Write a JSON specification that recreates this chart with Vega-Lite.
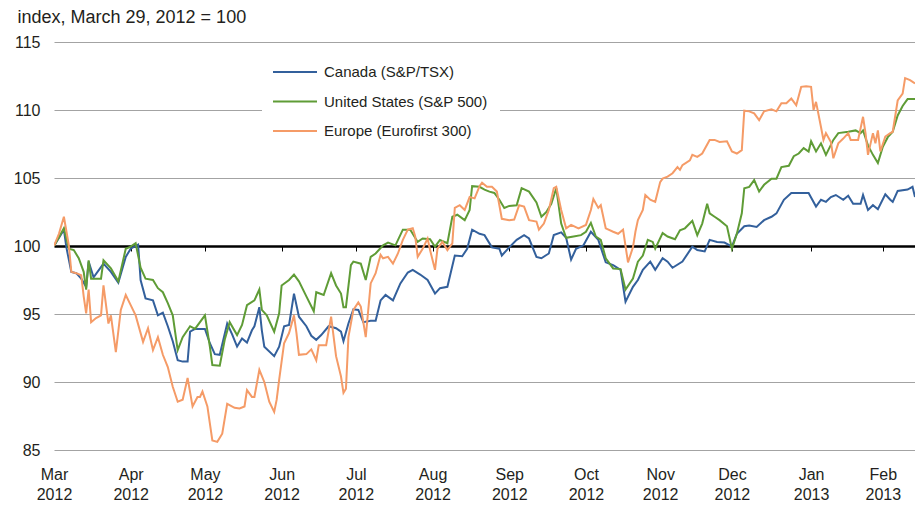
{
  "$schema": "https://vega.github.io/schema/vega-lite/v6.json",
  "width": 861,
  "height": 408,
  "autosize": {"type": "none"},
  "padding": {"left": 54, "top": 42, "right": 0, "bottom": 57},
  "background": "white",
  "config": {"font": "Liberation Sans", "view": {"stroke": null}},
  "data": {"values": [
{"series":"Canada (S&P/TSX)","date":"2012-03-29","value":100},{"series":"Canada (S&P/TSX)","date":"2012-04-02","value":101.2},{"series":"Canada (S&P/TSX)","date":"2012-04-03","value":99.9},{"series":"Canada (S&P/TSX)","date":"2012-04-05","value":98.1},{"series":"Canada (S&P/TSX)","date":"2012-04-07","value":98.0},{"series":"Canada (S&P/TSX)","date":"2012-04-09","value":97.6},{"series":"Canada (S&P/TSX)","date":"2012-04-11","value":97.0},{"series":"Canada (S&P/TSX)","date":"2012-04-12","value":98.85},{"series":"Canada (S&P/TSX)","date":"2012-04-14","value":97.7},{"series":"Canada (S&P/TSX)","date":"2012-04-18","value":98.7},{"series":"Canada (S&P/TSX)","date":"2012-04-21","value":98.1},{"series":"Canada (S&P/TSX)","date":"2012-04-24","value":97.3},{"series":"Canada (S&P/TSX)","date":"2012-04-27","value":99.2},{"series":"Canada (S&P/TSX)","date":"2012-04-29","value":99.8},{"series":"Canada (S&P/TSX)","date":"2012-05-02","value":100.1},{"series":"Canada (S&P/TSX)","date":"2012-05-03","value":97.5},{"series":"Canada (S&P/TSX)","date":"2012-05-05","value":96.15},{"series":"Canada (S&P/TSX)","date":"2012-05-08","value":96.0},{"series":"Canada (S&P/TSX)","date":"2012-05-10","value":94.9},{"series":"Canada (S&P/TSX)","date":"2012-05-12","value":95.1},{"series":"Canada (S&P/TSX)","date":"2012-05-14","value":94.1},{"series":"Canada (S&P/TSX)","date":"2012-05-16","value":93.0},{"series":"Canada (S&P/TSX)","date":"2012-05-18","value":91.6},{"series":"Canada (S&P/TSX)","date":"2012-05-20","value":91.5},{"series":"Canada (S&P/TSX)","date":"2012-05-22","value":91.5},{"series":"Canada (S&P/TSX)","date":"2012-05-23","value":93.7},{"series":"Canada (S&P/TSX)","date":"2012-05-25","value":93.9},{"series":"Canada (S&P/TSX)","date":"2012-05-29","value":93.9},{"series":"Canada (S&P/TSX)","date":"2012-05-31","value":92.85},{"series":"Canada (S&P/TSX)","date":"2012-06-02","value":92.05},{"series":"Canada (S&P/TSX)","date":"2012-06-04","value":92.0},{"series":"Canada (S&P/TSX)","date":"2012-06-07","value":94.3},{"series":"Canada (S&P/TSX)","date":"2012-06-09","value":93.5},{"series":"Canada (S&P/TSX)","date":"2012-06-11","value":92.6},{"series":"Canada (S&P/TSX)","date":"2012-06-13","value":93.2},{"series":"Canada (S&P/TSX)","date":"2012-06-15","value":92.9},{"series":"Canada (S&P/TSX)","date":"2012-06-17","value":93.8},{"series":"Canada (S&P/TSX)","date":"2012-06-18","value":94.1},{"series":"Canada (S&P/TSX)","date":"2012-06-20","value":95.5},{"series":"Canada (S&P/TSX)","date":"2012-06-21","value":93.8},{"series":"Canada (S&P/TSX)","date":"2012-06-22","value":92.6},{"series":"Canada (S&P/TSX)","date":"2012-06-26","value":91.9},{"series":"Canada (S&P/TSX)","date":"2012-06-28","value":92.6},{"series":"Canada (S&P/TSX)","date":"2012-06-30","value":94.1},{"series":"Canada (S&P/TSX)","date":"2012-07-02","value":94.2},{"series":"Canada (S&P/TSX)","date":"2012-07-04","value":96.5},{"series":"Canada (S&P/TSX)","date":"2012-07-06","value":94.8},{"series":"Canada (S&P/TSX)","date":"2012-07-09","value":94.1},{"series":"Canada (S&P/TSX)","date":"2012-07-11","value":93.4},{"series":"Canada (S&P/TSX)","date":"2012-07-13","value":93.1},{"series":"Canada (S&P/TSX)","date":"2012-07-15","value":93.45},{"series":"Canada (S&P/TSX)","date":"2012-07-18","value":94.1},{"series":"Canada (S&P/TSX)","date":"2012-07-21","value":93.95},{"series":"Canada (S&P/TSX)","date":"2012-07-23","value":93.7},{"series":"Canada (S&P/TSX)","date":"2012-07-24","value":93.0},{"series":"Canada (S&P/TSX)","date":"2012-07-26","value":94.3},{"series":"Canada (S&P/TSX)","date":"2012-07-28","value":95.35},{"series":"Canada (S&P/TSX)","date":"2012-07-30","value":95.3},{"series":"Canada (S&P/TSX)","date":"2012-08-01","value":94.4},{"series":"Canada (S&P/TSX)","date":"2012-08-04","value":94.5},{"series":"Canada (S&P/TSX)","date":"2012-08-06","value":94.5},{"series":"Canada (S&P/TSX)","date":"2012-08-08","value":96.0},{"series":"Canada (S&P/TSX)","date":"2012-08-10","value":96.4},{"series":"Canada (S&P/TSX)","date":"2012-08-13","value":96.0},{"series":"Canada (S&P/TSX)","date":"2012-08-16","value":97.25},{"series":"Canada (S&P/TSX)","date":"2012-08-19","value":98.05},{"series":"Canada (S&P/TSX)","date":"2012-08-21","value":98.25},{"series":"Canada (S&P/TSX)","date":"2012-08-24","value":97.9},{"series":"Canada (S&P/TSX)","date":"2012-08-27","value":97.5},{"series":"Canada (S&P/TSX)","date":"2012-08-30","value":96.5},{"series":"Canada (S&P/TSX)","date":"2012-09-01","value":96.9},{"series":"Canada (S&P/TSX)","date":"2012-09-04","value":97.0},{"series":"Canada (S&P/TSX)","date":"2012-09-07","value":99.3},{"series":"Canada (S&P/TSX)","date":"2012-09-10","value":99.25},{"series":"Canada (S&P/TSX)","date":"2012-09-12","value":99.8},{"series":"Canada (S&P/TSX)","date":"2012-09-14","value":101.2},{"series":"Canada (S&P/TSX)","date":"2012-09-17","value":100.9},{"series":"Canada (S&P/TSX)","date":"2012-09-19","value":100.8},{"series":"Canada (S&P/TSX)","date":"2012-09-22","value":99.9},{"series":"Canada (S&P/TSX)","date":"2012-09-25","value":99.8},{"series":"Canada (S&P/TSX)","date":"2012-09-26","value":99.3},{"series":"Canada (S&P/TSX)","date":"2012-09-29","value":99.9},{"series":"Canada (S&P/TSX)","date":"2012-10-02","value":100.45},{"series":"Canada (S&P/TSX)","date":"2012-10-05","value":100.8},{"series":"Canada (S&P/TSX)","date":"2012-10-07","value":100.55},{"series":"Canada (S&P/TSX)","date":"2012-10-10","value":99.2},{"series":"Canada (S&P/TSX)","date":"2012-10-12","value":99.1},{"series":"Canada (S&P/TSX)","date":"2012-10-15","value":99.45},{"series":"Canada (S&P/TSX)","date":"2012-10-17","value":100.8},{"series":"Canada (S&P/TSX)","date":"2012-10-20","value":101.0},{"series":"Canada (S&P/TSX)","date":"2012-10-22","value":100.6},{"series":"Canada (S&P/TSX)","date":"2012-10-24","value":99.0},{"series":"Canada (S&P/TSX)","date":"2012-10-26","value":99.8},{"series":"Canada (S&P/TSX)","date":"2012-10-29","value":100.05},{"series":"Canada (S&P/TSX)","date":"2012-11-01","value":101.05},{"series":"Canada (S&P/TSX)","date":"2012-11-04","value":100.45},{"series":"Canada (S&P/TSX)","date":"2012-11-07","value":98.8},{"series":"Canada (S&P/TSX)","date":"2012-11-10","value":98.6},{"series":"Canada (S&P/TSX)","date":"2012-11-13","value":98.25},{"series":"Canada (S&P/TSX)","date":"2012-11-15","value":95.9},{"series":"Canada (S&P/TSX)","date":"2012-11-18","value":97.0},{"series":"Canada (S&P/TSX)","date":"2012-11-20","value":97.5},{"series":"Canada (S&P/TSX)","date":"2012-11-22","value":98.25},{"series":"Canada (S&P/TSX)","date":"2012-11-25","value":98.85},{"series":"Canada (S&P/TSX)","date":"2012-11-27","value":98.25},{"series":"Canada (S&P/TSX)","date":"2012-11-30","value":99.1},{"series":"Canada (S&P/TSX)","date":"2012-12-02","value":98.85},{"series":"Canada (S&P/TSX)","date":"2012-12-04","value":98.4},{"series":"Canada (S&P/TSX)","date":"2012-12-08","value":98.85},{"series":"Canada (S&P/TSX)","date":"2012-12-12","value":99.95},{"series":"Canada (S&P/TSX)","date":"2012-12-14","value":99.7},{"series":"Canada (S&P/TSX)","date":"2012-12-17","value":99.6},{"series":"Canada (S&P/TSX)","date":"2012-12-19","value":100.45},{"series":"Canada (S&P/TSX)","date":"2012-12-22","value":100.3},{"series":"Canada (S&P/TSX)","date":"2012-12-25","value":100.25},{"series":"Canada (S&P/TSX)","date":"2012-12-28","value":99.95},{"series":"Canada (S&P/TSX)","date":"2012-12-30","value":100.9},{"series":"Canada (S&P/TSX)","date":"2013-01-02","value":101.45},{"series":"Canada (S&P/TSX)","date":"2013-01-04","value":101.5},{"series":"Canada (S&P/TSX)","date":"2013-01-07","value":101.4},{"series":"Canada (S&P/TSX)","date":"2013-01-10","value":101.9},{"series":"Canada (S&P/TSX)","date":"2013-01-13","value":102.15},{"series":"Canada (S&P/TSX)","date":"2013-01-15","value":102.4},{"series":"Canada (S&P/TSX)","date":"2013-01-18","value":103.4},{"series":"Canada (S&P/TSX)","date":"2013-01-21","value":103.9},{"series":"Canada (S&P/TSX)","date":"2013-01-24","value":103.9},{"series":"Canada (S&P/TSX)","date":"2013-01-28","value":103.9},{"series":"Canada (S&P/TSX)","date":"2013-01-31","value":102.9},{"series":"Canada (S&P/TSX)","date":"2013-02-02","value":103.4},{"series":"Canada (S&P/TSX)","date":"2013-02-04","value":103.25},{"series":"Canada (S&P/TSX)","date":"2013-02-06","value":103.6},{"series":"Canada (S&P/TSX)","date":"2013-02-08","value":103.75},{"series":"Canada (S&P/TSX)","date":"2013-02-11","value":103.4},{"series":"Canada (S&P/TSX)","date":"2013-02-13","value":103.7},{"series":"Canada (S&P/TSX)","date":"2013-02-15","value":103.1},{"series":"Canada (S&P/TSX)","date":"2013-02-18","value":103.1},{"series":"Canada (S&P/TSX)","date":"2013-02-19","value":103.75},{"series":"Canada (S&P/TSX)","date":"2013-02-21","value":102.65},{"series":"Canada (S&P/TSX)","date":"2013-02-23","value":103.0},{"series":"Canada (S&P/TSX)","date":"2013-02-25","value":102.7},{"series":"Canada (S&P/TSX)","date":"2013-02-28","value":103.8},{"series":"Canada (S&P/TSX)","date":"2013-03-02","value":103.4},{"series":"Canada (S&P/TSX)","date":"2013-03-03","value":103.25},{"series":"Canada (S&P/TSX)","date":"2013-03-05","value":104.05},{"series":"Canada (S&P/TSX)","date":"2013-03-09","value":104.15},{"series":"Canada (S&P/TSX)","date":"2013-03-11","value":104.35},{"series":"Canada (S&P/TSX)","date":"2013-03-12","value":103.6},
{"series":"United States (S&P 500)","date":"2012-03-29","value":100},{"series":"United States (S&P 500)","date":"2012-04-02","value":101.3},{"series":"United States (S&P 500)","date":"2012-04-04","value":99.8},{"series":"United States (S&P 500)","date":"2012-04-06","value":99.7},{"series":"United States (S&P 500)","date":"2012-04-08","value":99.1},{"series":"United States (S&P 500)","date":"2012-04-10","value":98.1},{"series":"United States (S&P 500)","date":"2012-04-11","value":96.8},{"series":"United States (S&P 500)","date":"2012-04-12","value":98.95},{"series":"United States (S&P 500)","date":"2012-04-13","value":97.6},{"series":"United States (S&P 500)","date":"2012-04-17","value":97.6},{"series":"United States (S&P 500)","date":"2012-04-18","value":98.95},{"series":"United States (S&P 500)","date":"2012-04-21","value":98.35},{"series":"United States (S&P 500)","date":"2012-04-24","value":97.4},{"series":"United States (S&P 500)","date":"2012-04-27","value":99.8},{"series":"United States (S&P 500)","date":"2012-04-29","value":99.95},{"series":"United States (S&P 500)","date":"2012-05-01","value":100.2},{"series":"United States (S&P 500)","date":"2012-05-03","value":98.4},{"series":"United States (S&P 500)","date":"2012-05-05","value":97.6},{"series":"United States (S&P 500)","date":"2012-05-08","value":97.5},{"series":"United States (S&P 500)","date":"2012-05-10","value":96.9},{"series":"United States (S&P 500)","date":"2012-05-12","value":96.6},{"series":"United States (S&P 500)","date":"2012-05-14","value":95.8},{"series":"United States (S&P 500)","date":"2012-05-16","value":94.9},{"series":"United States (S&P 500)","date":"2012-05-18","value":92.35},{"series":"United States (S&P 500)","date":"2012-05-20","value":93.3},{"series":"United States (S&P 500)","date":"2012-05-23","value":94.1},{"series":"United States (S&P 500)","date":"2012-05-25","value":93.9},{"series":"United States (S&P 500)","date":"2012-05-29","value":94.9},{"series":"United States (S&P 500)","date":"2012-05-31","value":92.6},{"series":"United States (S&P 500)","date":"2012-06-01","value":91.25},{"series":"United States (S&P 500)","date":"2012-06-04","value":91.2},{"series":"United States (S&P 500)","date":"2012-06-06","value":93.1},{"series":"United States (S&P 500)","date":"2012-06-08","value":94.4},{"series":"United States (S&P 500)","date":"2012-06-11","value":93.45},{"series":"United States (S&P 500)","date":"2012-06-13","value":94.2},{"series":"United States (S&P 500)","date":"2012-06-15","value":95.65},{"series":"United States (S&P 500)","date":"2012-06-18","value":96.0},{"series":"United States (S&P 500)","date":"2012-06-20","value":96.8},{"series":"United States (S&P 500)","date":"2012-06-21","value":95.3},{"series":"United States (S&P 500)","date":"2012-06-23","value":94.9},{"series":"United States (S&P 500)","date":"2012-06-26","value":93.7},{"series":"United States (S&P 500)","date":"2012-06-28","value":95.05},{"series":"United States (S&P 500)","date":"2012-06-29","value":97.1},{"series":"United States (S&P 500)","date":"2012-07-02","value":97.5},{"series":"United States (S&P 500)","date":"2012-07-04","value":97.9},{"series":"United States (S&P 500)","date":"2012-07-06","value":97.4},{"series":"United States (S&P 500)","date":"2012-07-09","value":96.3},{"series":"United States (S&P 500)","date":"2012-07-12","value":95.2},{"series":"United States (S&P 500)","date":"2012-07-13","value":96.6},{"series":"United States (S&P 500)","date":"2012-07-16","value":96.4},{"series":"United States (S&P 500)","date":"2012-07-19","value":98.0},{"series":"United States (S&P 500)","date":"2012-07-21","value":97.1},{"series":"United States (S&P 500)","date":"2012-07-23","value":96.5},{"series":"United States (S&P 500)","date":"2012-07-24","value":95.5},{"series":"United States (S&P 500)","date":"2012-07-25","value":95.5},{"series":"United States (S&P 500)","date":"2012-07-27","value":98.6},{"series":"United States (S&P 500)","date":"2012-07-28","value":98.85},{"series":"United States (S&P 500)","date":"2012-07-31","value":98.7},{"series":"United States (S&P 500)","date":"2012-08-02","value":97.5},{"series":"United States (S&P 500)","date":"2012-08-04","value":99.2},{"series":"United States (S&P 500)","date":"2012-08-06","value":99.45},{"series":"United States (S&P 500)","date":"2012-08-09","value":100.05},{"series":"United States (S&P 500)","date":"2012-08-11","value":100.25},{"series":"United States (S&P 500)","date":"2012-08-14","value":100.05},{"series":"United States (S&P 500)","date":"2012-08-17","value":101.2},{"series":"United States (S&P 500)","date":"2012-08-20","value":101.2},{"series":"United States (S&P 500)","date":"2012-08-23","value":100.3},{"series":"United States (S&P 500)","date":"2012-08-25","value":100.55},{"series":"United States (S&P 500)","date":"2012-08-28","value":100.5},{"series":"United States (S&P 500)","date":"2012-08-30","value":99.95},{"series":"United States (S&P 500)","date":"2012-09-01","value":100.45},{"series":"United States (S&P 500)","date":"2012-09-04","value":100.2},{"series":"United States (S&P 500)","date":"2012-09-06","value":102.15},{"series":"United States (S&P 500)","date":"2012-09-08","value":102.3},{"series":"United States (S&P 500)","date":"2012-09-11","value":101.9},{"series":"United States (S&P 500)","date":"2012-09-13","value":102.65},{"series":"United States (S&P 500)","date":"2012-09-14","value":104.4},{"series":"United States (S&P 500)","date":"2012-09-17","value":104.35},{"series":"United States (S&P 500)","date":"2012-09-19","value":104.15},{"series":"United States (S&P 500)","date":"2012-09-21","value":104.0},{"series":"United States (S&P 500)","date":"2012-09-23","value":103.9},{"series":"United States (S&P 500)","date":"2012-09-25","value":103.4},{"series":"United States (S&P 500)","date":"2012-09-27","value":102.8},{"series":"United States (S&P 500)","date":"2012-09-29","value":102.95},{"series":"United States (S&P 500)","date":"2012-10-02","value":103.0},{"series":"United States (S&P 500)","date":"2012-10-04","value":104.25},{"series":"United States (S&P 500)","date":"2012-10-07","value":104.0},{"series":"United States (S&P 500)","date":"2012-10-10","value":103.2},{"series":"United States (S&P 500)","date":"2012-10-12","value":102.15},{"series":"United States (S&P 500)","date":"2012-10-14","value":102.5},{"series":"United States (S&P 500)","date":"2012-10-16","value":103.1},{"series":"United States (S&P 500)","date":"2012-10-18","value":104.25},{"series":"United States (S&P 500)","date":"2012-10-20","value":101.65},{"series":"United States (S&P 500)","date":"2012-10-22","value":100.6},{"series":"United States (S&P 500)","date":"2012-10-25","value":100.7},{"series":"United States (S&P 500)","date":"2012-10-28","value":100.8},{"series":"United States (S&P 500)","date":"2012-10-30","value":101.05},{"series":"United States (S&P 500)","date":"2012-11-01","value":101.7},{"series":"United States (S&P 500)","date":"2012-11-03","value":100.7},{"series":"United States (S&P 500)","date":"2012-11-05","value":100.45},{"series":"United States (S&P 500)","date":"2012-11-07","value":99.1},{"series":"United States (S&P 500)","date":"2012-11-10","value":98.35},{"series":"United States (S&P 500)","date":"2012-11-13","value":98.3},{"series":"United States (S&P 500)","date":"2012-11-15","value":96.8},{"series":"United States (S&P 500)","date":"2012-11-18","value":97.6},{"series":"United States (S&P 500)","date":"2012-11-20","value":98.85},{"series":"United States (S&P 500)","date":"2012-11-22","value":99.3},{"series":"United States (S&P 500)","date":"2012-11-24","value":100.45},{"series":"United States (S&P 500)","date":"2012-11-26","value":100.3},{"series":"United States (S&P 500)","date":"2012-11-27","value":99.8},{"series":"United States (S&P 500)","date":"2012-11-30","value":100.95},{"series":"United States (S&P 500)","date":"2012-12-02","value":100.7},{"series":"United States (S&P 500)","date":"2012-12-05","value":100.5},{"series":"United States (S&P 500)","date":"2012-12-07","value":101.15},{"series":"United States (S&P 500)","date":"2012-12-09","value":101.3},{"series":"United States (S&P 500)","date":"2012-12-12","value":101.85},{"series":"United States (S&P 500)","date":"2012-12-14","value":100.8},{"series":"United States (S&P 500)","date":"2012-12-16","value":101.65},{"series":"United States (S&P 500)","date":"2012-12-18","value":103.1},{"series":"United States (S&P 500)","date":"2012-12-19","value":102.4},{"series":"United States (S&P 500)","date":"2012-12-21","value":102.15},{"series":"United States (S&P 500)","date":"2012-12-23","value":101.9},{"series":"United States (S&P 500)","date":"2012-12-26","value":101.45},{"series":"United States (S&P 500)","date":"2012-12-28","value":99.8},{"series":"United States (S&P 500)","date":"2012-12-30","value":100.9},{"series":"United States (S&P 500)","date":"2013-01-01","value":102.4},{"series":"United States (S&P 500)","date":"2013-01-02","value":104.25},{"series":"United States (S&P 500)","date":"2013-01-04","value":104.35},{"series":"United States (S&P 500)","date":"2013-01-06","value":104.85},{"series":"United States (S&P 500)","date":"2013-01-08","value":104.0},{"series":"United States (S&P 500)","date":"2013-01-10","value":104.5},{"series":"United States (S&P 500)","date":"2013-01-13","value":104.95},{"series":"United States (S&P 500)","date":"2013-01-15","value":104.95},{"series":"United States (S&P 500)","date":"2013-01-17","value":105.8},{"series":"United States (S&P 500)","date":"2013-01-20","value":105.9},{"series":"United States (S&P 500)","date":"2013-01-22","value":106.6},{"series":"United States (S&P 500)","date":"2013-01-24","value":106.8},{"series":"United States (S&P 500)","date":"2013-01-26","value":107.2},{"series":"United States (S&P 500)","date":"2013-01-28","value":106.95},{"series":"United States (S&P 500)","date":"2013-01-29","value":107.7},{"series":"United States (S&P 500)","date":"2013-01-31","value":106.95},{"series":"United States (S&P 500)","date":"2013-02-02","value":107.55},{"series":"United States (S&P 500)","date":"2013-02-04","value":106.7},{"series":"United States (S&P 500)","date":"2013-02-07","value":107.8},{"series":"United States (S&P 500)","date":"2013-02-09","value":108.3},{"series":"United States (S&P 500)","date":"2013-02-13","value":108.4},{"series":"United States (S&P 500)","date":"2013-02-16","value":108.5},{"series":"United States (S&P 500)","date":"2013-02-18","value":108.3},{"series":"United States (S&P 500)","date":"2013-02-19","value":108.5},{"series":"United States (S&P 500)","date":"2013-02-21","value":107.4},{"series":"United States (S&P 500)","date":"2013-02-23","value":106.7},{"series":"United States (S&P 500)","date":"2013-02-25","value":106.1},{"series":"United States (S&P 500)","date":"2013-02-27","value":107.3},{"series":"United States (S&P 500)","date":"2013-03-01","value":108.0},{"series":"United States (S&P 500)","date":"2013-03-03","value":108.4},{"series":"United States (S&P 500)","date":"2013-03-05","value":109.6},{"series":"United States (S&P 500)","date":"2013-03-07","value":110.3},{"series":"United States (S&P 500)","date":"2013-03-09","value":110.8},{"series":"United States (S&P 500)","date":"2013-03-12","value":110.8},
{"series":"Europe (Eurofirst 300)","date":"2012-03-29","value":100},{"series":"Europe (Eurofirst 300)","date":"2012-03-31","value":100.9},{"series":"Europe (Eurofirst 300)","date":"2012-04-02","value":102.15},{"series":"Europe (Eurofirst 300)","date":"2012-04-04","value":100.05},{"series":"Europe (Eurofirst 300)","date":"2012-04-05","value":98.1},{"series":"Europe (Eurofirst 300)","date":"2012-04-07","value":98.0},{"series":"Europe (Eurofirst 300)","date":"2012-04-09","value":97.85},{"series":"Europe (Eurofirst 300)","date":"2012-04-10","value":96.3},{"series":"Europe (Eurofirst 300)","date":"2012-04-11","value":95.05},{"series":"Europe (Eurofirst 300)","date":"2012-04-12","value":96.8},{"series":"Europe (Eurofirst 300)","date":"2012-04-13","value":94.4},{"series":"Europe (Eurofirst 300)","date":"2012-04-15","value":94.7},{"series":"Europe (Eurofirst 300)","date":"2012-04-17","value":94.9},{"series":"Europe (Eurofirst 300)","date":"2012-04-18","value":97.1},{"series":"Europe (Eurofirst 300)","date":"2012-04-20","value":94.3},{"series":"Europe (Eurofirst 300)","date":"2012-04-21","value":94.9},{"series":"Europe (Eurofirst 300)","date":"2012-04-23","value":92.2},{"series":"Europe (Eurofirst 300)","date":"2012-04-25","value":95.3},{"series":"Europe (Eurofirst 300)","date":"2012-04-27","value":96.4},{"series":"Europe (Eurofirst 300)","date":"2012-04-29","value":95.65},{"series":"Europe (Eurofirst 300)","date":"2012-05-01","value":94.9},{"series":"Europe (Eurofirst 300)","date":"2012-05-04","value":92.95},{"series":"Europe (Eurofirst 300)","date":"2012-05-06","value":93.95},{"series":"Europe (Eurofirst 300)","date":"2012-05-08","value":92.35},{"series":"Europe (Eurofirst 300)","date":"2012-05-10","value":93.3},{"series":"Europe (Eurofirst 300)","date":"2012-05-12","value":92.0},{"series":"Europe (Eurofirst 300)","date":"2012-05-14","value":91.1},{"series":"Europe (Eurofirst 300)","date":"2012-05-16","value":89.65},{"series":"Europe (Eurofirst 300)","date":"2012-05-18","value":88.55},{"series":"Europe (Eurofirst 300)","date":"2012-05-20","value":88.7},{"series":"Europe (Eurofirst 300)","date":"2012-05-22","value":90.3},{"series":"Europe (Eurofirst 300)","date":"2012-05-24","value":88.2},{"series":"Europe (Eurofirst 300)","date":"2012-05-26","value":88.9},{"series":"Europe (Eurofirst 300)","date":"2012-05-27","value":88.9},{"series":"Europe (Eurofirst 300)","date":"2012-05-28","value":89.3},{"series":"Europe (Eurofirst 300)","date":"2012-05-30","value":88.2},{"series":"Europe (Eurofirst 300)","date":"2012-06-01","value":85.7},{"series":"Europe (Eurofirst 300)","date":"2012-06-03","value":85.6},{"series":"Europe (Eurofirst 300)","date":"2012-06-05","value":86.2},{"series":"Europe (Eurofirst 300)","date":"2012-06-07","value":88.4},{"series":"Europe (Eurofirst 300)","date":"2012-06-10","value":88.1},{"series":"Europe (Eurofirst 300)","date":"2012-06-12","value":88.05},{"series":"Europe (Eurofirst 300)","date":"2012-06-14","value":88.2},{"series":"Europe (Eurofirst 300)","date":"2012-06-15","value":89.4},{"series":"Europe (Eurofirst 300)","date":"2012-06-17","value":88.9},{"series":"Europe (Eurofirst 300)","date":"2012-06-18","value":88.9},{"series":"Europe (Eurofirst 300)","date":"2012-06-20","value":90.9},{"series":"Europe (Eurofirst 300)","date":"2012-06-22","value":90.0},{"series":"Europe (Eurofirst 300)","date":"2012-06-24","value":88.55},{"series":"Europe (Eurofirst 300)","date":"2012-06-26","value":87.8},{"series":"Europe (Eurofirst 300)","date":"2012-06-27","value":88.7},{"series":"Europe (Eurofirst 300)","date":"2012-06-28","value":90.15},{"series":"Europe (Eurofirst 300)","date":"2012-06-30","value":92.85},{"series":"Europe (Eurofirst 300)","date":"2012-07-02","value":93.6},{"series":"Europe (Eurofirst 300)","date":"2012-07-04","value":94.9},{"series":"Europe (Eurofirst 300)","date":"2012-07-05","value":93.6},{"series":"Europe (Eurofirst 300)","date":"2012-07-06","value":92.0},{"series":"Europe (Eurofirst 300)","date":"2012-07-09","value":92.05},{"series":"Europe (Eurofirst 300)","date":"2012-07-11","value":92.4},{"series":"Europe (Eurofirst 300)","date":"2012-07-13","value":91.6},{"series":"Europe (Eurofirst 300)","date":"2012-07-14","value":92.7},{"series":"Europe (Eurofirst 300)","date":"2012-07-17","value":92.7},{"series":"Europe (Eurofirst 300)","date":"2012-07-19","value":94.8},{"series":"Europe (Eurofirst 300)","date":"2012-07-21","value":91.9},{"series":"Europe (Eurofirst 300)","date":"2012-07-23","value":90.4},{"series":"Europe (Eurofirst 300)","date":"2012-07-24","value":89.2},{"series":"Europe (Eurofirst 300)","date":"2012-07-25","value":89.5},{"series":"Europe (Eurofirst 300)","date":"2012-07-26","value":93.3},{"series":"Europe (Eurofirst 300)","date":"2012-07-28","value":95.3},{"series":"Europe (Eurofirst 300)","date":"2012-07-30","value":95.85},{"series":"Europe (Eurofirst 300)","date":"2012-07-31","value":95.55},{"series":"Europe (Eurofirst 300)","date":"2012-08-02","value":93.3},{"series":"Europe (Eurofirst 300)","date":"2012-08-04","value":97.25},{"series":"Europe (Eurofirst 300)","date":"2012-08-06","value":98.0},{"series":"Europe (Eurofirst 300)","date":"2012-08-08","value":99.35},{"series":"Europe (Eurofirst 300)","date":"2012-08-09","value":99.1},{"series":"Europe (Eurofirst 300)","date":"2012-08-11","value":99.2},{"series":"Europe (Eurofirst 300)","date":"2012-08-13","value":98.7},{"series":"Europe (Eurofirst 300)","date":"2012-08-15","value":99.45},{"series":"Europe (Eurofirst 300)","date":"2012-08-17","value":100.45},{"series":"Europe (Eurofirst 300)","date":"2012-08-19","value":101.2},{"series":"Europe (Eurofirst 300)","date":"2012-08-21","value":101.3},{"series":"Europe (Eurofirst 300)","date":"2012-08-22","value":100.7},{"series":"Europe (Eurofirst 300)","date":"2012-08-23","value":99.2},{"series":"Europe (Eurofirst 300)","date":"2012-08-25","value":99.8},{"series":"Europe (Eurofirst 300)","date":"2012-08-27","value":100.55},{"series":"Europe (Eurofirst 300)","date":"2012-08-28","value":99.7},{"series":"Europe (Eurofirst 300)","date":"2012-08-30","value":98.25},{"series":"Europe (Eurofirst 300)","date":"2012-08-31","value":99.8},{"series":"Europe (Eurofirst 300)","date":"2012-09-02","value":100.3},{"series":"Europe (Eurofirst 300)","date":"2012-09-04","value":99.7},{"series":"Europe (Eurofirst 300)","date":"2012-09-06","value":100.2},{"series":"Europe (Eurofirst 300)","date":"2012-09-07","value":102.8},{"series":"Europe (Eurofirst 300)","date":"2012-09-09","value":103.0},{"series":"Europe (Eurofirst 300)","date":"2012-09-11","value":102.65},{"series":"Europe (Eurofirst 300)","date":"2012-09-13","value":103.6},{"series":"Europe (Eurofirst 300)","date":"2012-09-15","value":103.5},{"series":"Europe (Eurofirst 300)","date":"2012-09-17","value":104.4},{"series":"Europe (Eurofirst 300)","date":"2012-09-18","value":104.65},{"series":"Europe (Eurofirst 300)","date":"2012-09-20","value":104.35},{"series":"Europe (Eurofirst 300)","date":"2012-09-22","value":104.35},{"series":"Europe (Eurofirst 300)","date":"2012-09-24","value":104.0},{"series":"Europe (Eurofirst 300)","date":"2012-09-26","value":102.0},{"series":"Europe (Eurofirst 300)","date":"2012-09-29","value":101.9},{"series":"Europe (Eurofirst 300)","date":"2012-10-01","value":101.95},{"series":"Europe (Eurofirst 300)","date":"2012-10-03","value":103.0},{"series":"Europe (Eurofirst 300)","date":"2012-10-05","value":102.9},{"series":"Europe (Eurofirst 300)","date":"2012-10-07","value":101.9},{"series":"Europe (Eurofirst 300)","date":"2012-10-10","value":101.8},{"series":"Europe (Eurofirst 300)","date":"2012-10-11","value":101.2},{"series":"Europe (Eurofirst 300)","date":"2012-10-13","value":101.65},{"series":"Europe (Eurofirst 300)","date":"2012-10-15","value":102.65},{"series":"Europe (Eurofirst 300)","date":"2012-10-17","value":104.25},{"series":"Europe (Eurofirst 300)","date":"2012-10-18","value":104.35},{"series":"Europe (Eurofirst 300)","date":"2012-10-20","value":102.65},{"series":"Europe (Eurofirst 300)","date":"2012-10-22","value":101.3},{"series":"Europe (Eurofirst 300)","date":"2012-10-24","value":101.55},{"series":"Europe (Eurofirst 300)","date":"2012-10-27","value":101.3},{"series":"Europe (Eurofirst 300)","date":"2012-10-30","value":101.55},{"series":"Europe (Eurofirst 300)","date":"2012-11-01","value":102.65},{"series":"Europe (Eurofirst 300)","date":"2012-11-02","value":103.45},{"series":"Europe (Eurofirst 300)","date":"2012-11-04","value":102.8},{"series":"Europe (Eurofirst 300)","date":"2012-11-05","value":103.0},{"series":"Europe (Eurofirst 300)","date":"2012-11-07","value":101.3},{"series":"Europe (Eurofirst 300)","date":"2012-11-10","value":101.05},{"series":"Europe (Eurofirst 300)","date":"2012-11-12","value":100.9},{"series":"Europe (Eurofirst 300)","date":"2012-11-14","value":101.2},{"series":"Europe (Eurofirst 300)","date":"2012-11-16","value":98.8},{"series":"Europe (Eurofirst 300)","date":"2012-11-18","value":99.9},{"series":"Europe (Eurofirst 300)","date":"2012-11-19","value":101.05},{"series":"Europe (Eurofirst 300)","date":"2012-11-20","value":101.9},{"series":"Europe (Eurofirst 300)","date":"2012-11-22","value":102.65},{"series":"Europe (Eurofirst 300)","date":"2012-11-23","value":103.75},{"series":"Europe (Eurofirst 300)","date":"2012-11-25","value":103.4},{"series":"Europe (Eurofirst 300)","date":"2012-11-27","value":103.25},{"series":"Europe (Eurofirst 300)","date":"2012-11-29","value":104.7},{"series":"Europe (Eurofirst 300)","date":"2012-11-30","value":104.95},{"series":"Europe (Eurofirst 300)","date":"2012-12-02","value":105.1},{"series":"Europe (Eurofirst 300)","date":"2012-12-04","value":105.35},{"series":"Europe (Eurofirst 300)","date":"2012-12-06","value":105.8},{"series":"Europe (Eurofirst 300)","date":"2012-12-07","value":105.6},{"series":"Europe (Eurofirst 300)","date":"2012-12-08","value":105.95},{"series":"Europe (Eurofirst 300)","date":"2012-12-11","value":106.3},{"series":"Europe (Eurofirst 300)","date":"2012-12-12","value":106.7},{"series":"Europe (Eurofirst 300)","date":"2012-12-14","value":106.55},{"series":"Europe (Eurofirst 300)","date":"2012-12-16","value":106.8},{"series":"Europe (Eurofirst 300)","date":"2012-12-19","value":107.8},{"series":"Europe (Eurofirst 300)","date":"2012-12-21","value":107.8},{"series":"Europe (Eurofirst 300)","date":"2012-12-23","value":107.65},{"series":"Europe (Eurofirst 300)","date":"2012-12-26","value":107.7},{"series":"Europe (Eurofirst 300)","date":"2012-12-28","value":106.95},{"series":"Europe (Eurofirst 300)","date":"2012-12-30","value":106.8},{"series":"Europe (Eurofirst 300)","date":"2013-01-01","value":107.05},{"series":"Europe (Eurofirst 300)","date":"2013-01-02","value":109.95},{"series":"Europe (Eurofirst 300)","date":"2013-01-04","value":109.9},{"series":"Europe (Eurofirst 300)","date":"2013-01-06","value":109.75},{"series":"Europe (Eurofirst 300)","date":"2013-01-08","value":109.25},{"series":"Europe (Eurofirst 300)","date":"2013-01-10","value":109.9},{"series":"Europe (Eurofirst 300)","date":"2013-01-13","value":110.05},{"series":"Europe (Eurofirst 300)","date":"2013-01-15","value":109.9},{"series":"Europe (Eurofirst 300)","date":"2013-01-17","value":110.5},{"series":"Europe (Eurofirst 300)","date":"2013-01-19","value":110.5},{"series":"Europe (Eurofirst 300)","date":"2013-01-21","value":110.85},{"series":"Europe (Eurofirst 300)","date":"2013-01-22","value":110.6},{"series":"Europe (Eurofirst 300)","date":"2013-01-23","value":110.35},{"series":"Europe (Eurofirst 300)","date":"2013-01-25","value":111.7},{"series":"Europe (Eurofirst 300)","date":"2013-01-27","value":111.75},{"series":"Europe (Eurofirst 300)","date":"2013-01-29","value":111.7},{"series":"Europe (Eurofirst 300)","date":"2013-01-30","value":110.0},{"series":"Europe (Eurofirst 300)","date":"2013-01-31","value":110.6},{"series":"Europe (Eurofirst 300)","date":"2013-02-02","value":108.75},{"series":"Europe (Eurofirst 300)","date":"2013-02-03","value":107.8},{"series":"Europe (Eurofirst 300)","date":"2013-02-04","value":108.3},{"series":"Europe (Eurofirst 300)","date":"2013-02-06","value":107.65},{"series":"Europe (Eurofirst 300)","date":"2013-02-07","value":106.45},{"series":"Europe (Eurofirst 300)","date":"2013-02-09","value":107.55},{"series":"Europe (Eurofirst 300)","date":"2013-02-11","value":107.9},{"series":"Europe (Eurofirst 300)","date":"2013-02-13","value":108.3},{"series":"Europe (Eurofirst 300)","date":"2013-02-14","value":107.8},{"series":"Europe (Eurofirst 300)","date":"2013-02-16","value":107.8},{"series":"Europe (Eurofirst 300)","date":"2013-02-17","value":107.8},{"series":"Europe (Eurofirst 300)","date":"2013-02-19","value":109.5},{"series":"Europe (Eurofirst 300)","date":"2013-02-20","value":108.3},{"series":"Europe (Eurofirst 300)","date":"2013-02-21","value":106.7},{"series":"Europe (Eurofirst 300)","date":"2013-02-23","value":108.3},{"series":"Europe (Eurofirst 300)","date":"2013-02-24","value":107.55},{"series":"Europe (Eurofirst 300)","date":"2013-02-25","value":108.5},{"series":"Europe (Eurofirst 300)","date":"2013-02-26","value":106.95},{"series":"Europe (Eurofirst 300)","date":"2013-02-28","value":108.05},{"series":"Europe (Eurofirst 300)","date":"2013-03-02","value":108.3},{"series":"Europe (Eurofirst 300)","date":"2013-03-03","value":108.4},{"series":"Europe (Eurofirst 300)","date":"2013-03-05","value":110.7},{"series":"Europe (Eurofirst 300)","date":"2013-03-07","value":111.2},{"series":"Europe (Eurofirst 300)","date":"2013-03-08","value":112.35},{"series":"Europe (Eurofirst 300)","date":"2013-03-10","value":112.2},{"series":"Europe (Eurofirst 300)","date":"2013-03-12","value":111.95}
  ]},
  "resolve": {"axis": {"x": "independent"}},
  "layer": [
    {
      "mark": {"type": "line", "strokeWidth": 2, "clip": true},
      "encoding": {
        "x": {
          "field": "date", "type": "temporal",
          "scale": {"type": "utc", "domain": [{"year": 2012, "month": 3, "date": 29, "utc": true}, {"year": 2013, "month": 3, "date": 12, "utc": true}]},
          "axis": {
            "values": [
              {"year": 2012, "month": 3, "date": 29, "utc": true},
              {"year": 2012, "month": 4, "date": 29, "utc": true},
              {"year": 2012, "month": 5, "date": 29, "utc": true},
              {"year": 2012, "month": 6, "date": 29, "utc": true},
              {"year": 2012, "month": 7, "date": 29, "utc": true},
              {"year": 2012, "month": 8, "date": 29, "utc": true},
              {"year": 2012, "month": 9, "date": 29, "utc": true},
              {"year": 2012, "month": 10, "date": 30, "utc": true},
              {"year": 2012, "month": 11, "date": 29, "utc": true},
              {"year": 2012, "month": 12, "date": 28, "utc": true},
              {"year": 2013, "month": 1, "date": 29, "utc": true},
              {"year": 2013, "month": 2, "date": 27, "utc": true}
            ],
            "labelExpr": "[utcFormat(datum.value, '%b'), utcFormat(datum.value, '%Y')]",
            "title": null, "grid": false, "domain": false, "ticks": false,
            "labelPadding": 16, "labelFontSize": 16, "labelLineHeight": 20, "labelColor": "#231f20",
            "labelAlign": "center", "labelBaseline": "top", "labelFlush": false, "labelOverlap": false
          }
        },
        "y": {
          "field": "value", "type": "quantitative",
          "scale": {"domain": [85, 115], "nice": false, "zero": false},
          "axis": {
            "values": [85, 90, 95, 100, 105, 110, 115],
            "domain": false, "ticks": false, "labelPadding": 14, "labelFontSize": 16, "labelColor": "#231f20",
            "gridColor": {"condition": {"test": "datum.value === 100", "value": "#000000"}, "value": "#a3a3a3"},
            "gridWidth": {"condition": {"test": "datum.value === 100", "value": 2.5}, "value": 1.2},
            "gridOpacity": 1,
            "title": "index, March 29, 2012 = 100",
            "titleAngle": 0, "titleAlign": "left", "titleBaseline": "alphabetic",
            "titleX": -37, "titleY": -20, "titleFontSize": 18, "titleFontWeight": "normal", "titleColor": "#231f20"
          }
        },
        "color": {
          "field": "series", "type": "nominal",
          "scale": {"domain": ["Canada (S&P/TSX)", "United States (S&P 500)", "Europe (Eurofirst 300)"], "range": ["#33609c", "#5f9c36", "#f59b67"]},
          "legend": {
            "orient": "none", "legendX": 208, "legendY": 6, "title": null, "direction": "vertical",
            "symbolType": "M-2,0H2", "symbolSize": 484, "symbolStrokeWidth": 2, "symbolOffset": 9,
            "labelFontSize": 15, "labelOffset": 17, "labelColor": "#231f20", "labelLimit": 400,
            "fillColor": "white", "padding": 12, "rowPadding": 9.5
          }
        }
      }
    },
    {
      "mark": {"type": "line", "opacity": 0, "strokeWidth": 0},
      "encoding": {
        "x": {
          "field": "date", "type": "temporal",
          "axis": {
            "orient": "top", "offset": -209,
            "values": [
              {"year": 2012, "month": 4, "date": 29, "utc": true},
              {"year": 2012, "month": 5, "date": 29, "utc": true},
              {"year": 2012, "month": 6, "date": 29, "utc": true},
              {"year": 2012, "month": 7, "date": 29, "utc": true},
              {"year": 2012, "month": 8, "date": 29, "utc": true},
              {"year": 2012, "month": 9, "date": 29, "utc": true},
              {"year": 2012, "month": 10, "date": 30, "utc": true},
              {"year": 2012, "month": 11, "date": 29, "utc": true},
              {"year": 2012, "month": 12, "date": 28, "utc": true},
              {"year": 2013, "month": 1, "date": 29, "utc": true},
              {"year": 2013, "month": 2, "date": 27, "utc": true}
            ],
            "title": null, "grid": false, "domain": false, "labels": false,
            "ticks": true, "tickSize": 5, "tickColor": "#000000", "tickWidth": 1
          }
        },
        "y": {"field": "value", "type": "quantitative"},
        "detail": {"field": "series", "type": "nominal"}
      }
    }
  ]
}
